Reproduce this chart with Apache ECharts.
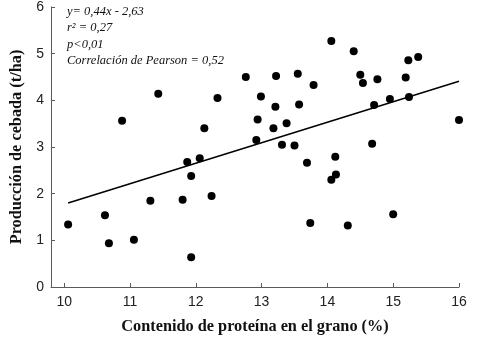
<!DOCTYPE html>
<html>
<head>
<meta charset="utf-8">
<script src="https://cdn.jsdelivr.net/npm/echarts@6/dist/echarts.min.js"></script>
<style>
  html, body { margin: 0; padding: 0; background: #fff; }
  #chart { width: 483px; height: 344px; }
</style>
</head>
<body>
<div id="chart"></div>
<script>
// contenido de proteína (%) de cada muestra
var proteina = [
  10.06, 10.62, 10.68, 11.06, 11.31, 11.80, 11.87, 11.93, 12.06, 12.24, 11.93,
  10.88, 11.43, 12.13, 12.33, 12.76,
  12.99, 12.94, 13.22, 13.21, 13.18, 13.38, 12.92, 13.31, 13.50, 13.55, 13.57,
  13.79, 14.06, 14.40, 14.50, 14.54, 14.76, 14.71, 14.95, 15.19, 15.23, 15.38,
  15.24, 16.00, 14.68,
  14.12, 13.69, 14.13, 14.06, 13.74, 14.31, 15.00
]
// producción de cebada (t/ha)
var produccion = [
  1.34, 1.54, 0.94, 1.01, 1.85, 1.87, 2.68, 2.38, 2.76, 1.95, 0.64,
  3.56, 4.14, 3.40, 4.05, 4.50,
  4.08, 3.59, 4.52, 3.86, 3.40, 3.51, 3.15, 3.05, 3.03, 4.57, 3.91,
  4.33, 5.27, 5.05, 4.55, 4.37, 4.45, 3.90, 4.03, 4.49, 4.86, 4.93,
  4.07, 3.58, 3.07,
  2.79, 2.66, 2.41, 2.30, 1.37, 1.32, 1.56
]
// extremos de la recta de regresión
var rectaX = [10.06, 16.0]
var rectaY = [1.80, 4.41]
var anotaciones = [
  'y= 0,44x - 2,63',
  'r² = 0,27',
  'p<0,01',
  'Correlación de Pearson = 0,52'
]

var puntos = proteina.map(function (x, i) { return [x, produccion[i]] })
var recta = rectaX.map(function (x, i) { return [x, rectaY[i]] })

var myChart = echarts.init(document.getElementById('chart'))

var ejeColor = '#5a5a5a'
var nombreEje = { fontFamily: 'Liberation Serif', fontWeight: 'bold', fontSize: 16.3, color: '#111' }
var option = {
  backgroundColor: '#fff',
  animation: false,
  grid: { left: 51, right: 24, top: 7, bottom: 57 },
  xAxis: {
    type: 'value',
    min: 9.8,
    max: 16,
    splitNumber: 6,
    name: 'Contenido de proteína en el grano (%)',
    nameLocation: 'middle',
    nameGap: 32,
    nameTextStyle: nombreEje,
    axisLine: { lineStyle: { color: ejeColor, width: 1 } },
    axisTick: { inside: true, length: 4, lineStyle: { color: ejeColor } },
    splitLine: { show: false },
    axisLabel: {
      showMinLabel: false,
      margin: 8,
      fontFamily: 'Liberation Sans',
      fontSize: 14,
      color: '#222',
      formatter: function (v) { return Math.abs(v - Math.round(v)) < 1e-6 ? String(Math.round(v)) : '' }
    }
  },
  yAxis: {
    type: 'value',
    min: 0,
    max: 6,
    interval: 1,
    name: 'Producción de cebada (t/ha)',
    nameLocation: 'middle',
    nameGap: 26,
    nameTextStyle: nombreEje,
    axisLine: { show: true, lineStyle: { color: ejeColor, width: 1 } },
    axisTick: { show: true, inside: true, length: 4, lineStyle: { color: ejeColor } },
    splitLine: { show: false },
    axisLabel: { margin: 7, fontFamily: 'Liberation Sans', fontSize: 14, color: '#222' }
  },
  graphic: anotaciones.map(function (t, i) {
    return {
      type: 'text',
      left: 67,
      top: 5.5 + i * 16.2,
      style: {
        text: t,
        font: 'italic 12.5px "Liberation Serif"',
        fill: '#111'
      }
    }
  }),
  series: [
    {
      type: 'line',
      data: recta,
      symbol: 'none',
      lineStyle: { color: '#000', width: 1.5 },
      z: 2
    },
    {
      type: 'scatter',
      data: puntos,
      symbol: 'circle',
      symbolSize: 8,
      itemStyle: { color: '#000', opacity: 1 },
      z: 3
    }
  ]
}
myChart.setOption(option)
</script>
</body>
</html>
